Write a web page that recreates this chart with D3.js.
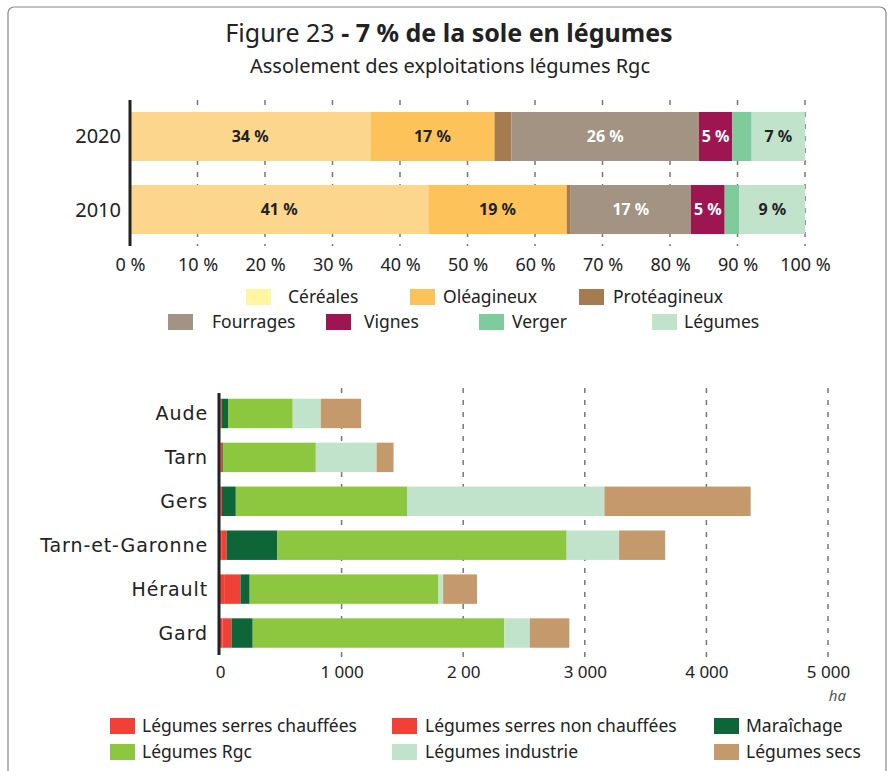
<!DOCTYPE html>
<html>
<head>
<meta charset="utf-8">
<script src="https://cdn.jsdelivr.net/npm/d3@7"></script>
<style>
  body { margin: 0; background: #fff; }
  text { font-family: "Noto Sans", "DejaVu Sans", sans-serif; fill: #222; }
</style>
</head>
<body>
<div id="viz"></div>
<script>

var width = 894;
var height = 771;

// Top chart data (% of surface)
var years = ["2020", "2010"];
var cultures = ["Céréales", "Oléagineux", "Protéagineux", "Fourrages", "Vignes", "Verger", "Légumes"];
var values2020 = [35.6, 18.4, 2.5, 27.8, 4.9, 2.9, 7.9];
var values2010 = [44.2, 20.5, 0.6, 17.8, 5.0, 2.2, 9.7];
var labels2020 = ["34 %", "17 %", "", "26 %", "5 %", "", "7 %"];
var labels2010 = ["41 %", "19 %", "", "17 %", "5 %", "", "9 %"];
var pctTicks = [0, 10, 20, 30, 40, 50, 60, 70, 80, 90, 100];

// Bottom chart data (ha)
var departements = ["Aude", "Tarn", "Gers", "Tarn-et-Garonne", "Hérault", "Gard"];
var types = ["Légumes serres chauffées", "Légumes serres non chauffées", "Maraîchage", "Légumes Rgc", "Légumes industrie", "Légumes secs"];
var serresChauffees = [3, 5, 5, 10, 40, 20];
var serresNonChauffees = [10, 14, 11, 44, 128, 75];
var maraichage = [53, 6, 114, 418, 76, 174];
var legumesRgc = [532, 763, 1408, 2379, 1553, 2070];
var legumesIndustrie = [231, 500, 1623, 431, 38, 208];
var legumesSecs = [332, 139, 1203, 379, 279, 326];
var haTicks = [0, 1000, 2000, 3000, 4000, 5000];
var haTickLabels = ["0", "1 000", "2 00", "3 000", "4 000", "5 000"];

var cultureColors = ["#fdd68e", "#fdc35a", "#a67b50", "#a39382", "#9e1651", "#7fcb9b", "#c1e3cc"];
var cultureLegendColors = ["#fff7a0", "#fdc35a", "#a67b50", "#a39382", "#9e1651", "#7fcb9b", "#c1e3cc"];
var whiteLabel = [false, false, false, true, true, false, false];
var typeColors = ["#ef4136", "#ef4136", "#0e6638", "#8dc63f", "#c1e3cc", "#c49a6c"];

var svg = d3.select("#viz").append("svg")
   .attr("width", width)
   .attr("height", height);

// frame
svg.append("rect")
   .attr("x", 8).attr("y", 7)
   .attr("width", 878).attr("height", 800)
   .attr("rx", 6)
   .attr("fill", "none")
   .attr("stroke", "#888")
   .attr("stroke-width", 1.2);

// Titles //
var title = svg.append("text")
   .attr("x", 449).attr("y", 42)
   .attr("text-anchor", "middle")
   .style("font-size", "25px");
title.append("tspan").text("Figure 23 ");
title.append("tspan").style("font-weight", "bold").text("- 7 % de la sole en légumes");

svg.append("text")
   .attr("x", 450).attr("y", 73)
   .attr("text-anchor", "middle")
   .style("font-size", "20px")
   .text("Assolement des exploitations légumes Rgc");

// Top chart //
var x1 = d3.scaleLinear().domain([0, 100]).range([130, 805]);
var y1 = d3.scaleBand().domain(years).range([100, 246]).paddingInner(0.329).paddingOuter(0.164);

svg.selectAll(".grid1")
   .data(pctTicks.slice(1))
   .enter().append("line")
   .attr("x1", function(d) { return x1(d); })
   .attr("x2", function(d) { return x1(d); })
   .attr("y1", 100).attr("y2", 246)
   .attr("stroke", "#777")
   .attr("stroke-width", 1.5)
   .attr("stroke-dasharray", "5,7");

var topRows = [
   {year: "2020", values: values2020, labels: labels2020},
   {year: "2010", values: values2010, labels: labels2010}
];

topRows.forEach(function(row) {
   var acc = 0;
   var segs = row.values.map(function(v, i) {
      var s = {i: i, x0: acc, x1: acc + v, label: row.labels[i]};
      acc += v;
      return s;
   });
   var g = svg.append("g");
   g.selectAll("rect")
      .data(segs)
      .enter().append("rect")
      .attr("x", function(d) { return x1(d.x0); })
      .attr("width", function(d) { return x1(d.x1) - x1(d.x0); })
      .attr("y", y1(row.year))
      .attr("height", y1.bandwidth())
      .attr("fill", function(d) { return cultureColors[d.i]; });
   g.selectAll("text")
      .data(segs.filter(function(d) { return d.label; }))
      .enter().append("text")
      .attr("x", function(d) { return (x1(d.x0) + x1(d.x1)) / 2; })
      .attr("y", y1(row.year) + y1.bandwidth() / 2)
      .attr("dy", "0.35em")
      .attr("text-anchor", "middle")
      .style("font-size", "16px")
      .style("font-weight", "bold")
      .style("fill", function(d) { return whiteLabel[d.i] ? "#fff" : "#222"; })
      .text(function(d) { return d.label; });
   svg.append("text")
      .attr("x", 121)
      .attr("y", y1(row.year) + y1.bandwidth() / 2)
      .attr("dy", "0.35em")
      .attr("text-anchor", "end")
      .style("font-size", "20px")
      .text(row.year);
});

svg.append("line")
   .attr("x1", 130).attr("x2", 130)
   .attr("y1", 100).attr("y2", 246)
   .attr("stroke", "#222")
   .attr("stroke-width", 3);

var axis1 = svg.append("g")
   .attr("transform", "translate(0,255)")
   .call(d3.axisBottom(x1).tickValues(pctTicks).tickSize(0).tickFormat(function(d) { return d + " %"; }));
axis1.select(".domain").remove();
axis1.selectAll("text")
   .style("font-size", "18px")
   .style("font-family", "'Noto Sans', sans-serif")
   .attr("fill", "#222");

// Top legend //
var legend1 = [
   {i: 0, sx: 246, tx: 288, y: 297},
   {i: 1, sx: 410, tx: 443, y: 297},
   {i: 2, sx: 579, tx: 613, y: 297},
   {i: 3, sx: 168, tx: 212, y: 322},
   {i: 4, sx: 326, tx: 364, y: 322},
   {i: 5, sx: 479, tx: 512, y: 322},
   {i: 6, sx: 652, tx: 684, y: 322}
];
legend1.forEach(function(l) {
   svg.append("rect")
      .attr("x", l.sx).attr("y", l.y - 8)
      .attr("width", 25).attr("height", 16)
      .attr("fill", cultureLegendColors[l.i]);
   svg.append("text")
      .attr("x", l.tx).attr("y", l.y)
      .attr("dy", "0.35em")
      .style("font-size", "17.5px")
      .text(cultures[l.i]);
});

// Bottom chart //
var x2 = d3.scaleLinear().domain([0, 5000]).range([220, 828]);
var y2 = d3.scaleBand().domain(departements).range([391.5, 655]).paddingInner(0.33).paddingOuter(0.165);

svg.selectAll(".grid2")
   .data(haTicks.slice(1))
   .enter().append("line")
   .attr("x1", function(d) { return x2(d); })
   .attr("x2", function(d) { return x2(d); })
   .attr("y1", 388).attr("y2", 657)
   .attr("stroke", "#777")
   .attr("stroke-width", 1.5)
   .attr("stroke-dasharray", "5,7");

var series = [serresChauffees, serresNonChauffees, maraichage, legumesRgc, legumesIndustrie, legumesSecs];

departements.forEach(function(dep, k) {
   var acc = 0;
   var segs = series.map(function(s, i) {
      var seg = {i: i, x0: acc, x1: acc + s[k]};
      acc += s[k];
      return seg;
   });
   svg.append("g").selectAll("rect")
      .data(segs)
      .enter().append("rect")
      .attr("x", function(d) { return x2(d.x0); })
      .attr("width", function(d) { return x2(d.x1) - x2(d.x0); })
      .attr("y", y2(dep))
      .attr("height", y2.bandwidth())
      .attr("fill", function(d) { return typeColors[d.i]; });
   svg.append("text")
      .attr("x", 208)
      .attr("y", y2(dep) + y2.bandwidth() / 2)
      .attr("dy", "0.35em")
      .attr("text-anchor", "end")
      .style("font-size", "19px")
      .style("letter-spacing", "0.9px")
      .style("font-family", "'DejaVu Sans', sans-serif")
      .text(dep);
});

svg.append("line")
   .attr("x1", 219).attr("x2", 219)
   .attr("y1", 393).attr("y2", 655)
   .attr("stroke", "#222")
   .attr("stroke-width", 3);

var axis2 = svg.append("g")
   .attr("transform", "translate(0,663)")
   .call(d3.axisBottom(x2).tickValues(haTicks).tickSize(0).tickFormat(function(d, i) { return haTickLabels[i]; }));
axis2.select(".domain").remove();
axis2.selectAll("text")
   .style("font-size", "17px")
   .style("font-family", "'Noto Sans', sans-serif")
   .attr("fill", "#222");

svg.append("text")
   .attr("x", 846).attr("y", 701)
   .attr("text-anchor", "end")
   .style("font-size", "15px")
   .style("font-style", "italic")
   .style("fill", "#555")
   .text("ha");

// Bottom legend //
var legend2 = [
   {i: 0, sx: 110, tx: 142, y: 726},
   {i: 1, sx: 392, tx: 425, y: 726},
   {i: 2, sx: 714, tx: 746, y: 726},
   {i: 3, sx: 110, tx: 142, y: 752},
   {i: 4, sx: 392, tx: 425, y: 752},
   {i: 5, sx: 714, tx: 746, y: 752}
];
legend2.forEach(function(l) {
   svg.append("rect")
      .attr("x", l.sx).attr("y", l.y - 8)
      .attr("width", 25).attr("height", 16)
      .attr("fill", typeColors[l.i]);
   svg.append("text")
      .attr("x", l.tx).attr("y", l.y)
      .attr("dy", "0.35em")
      .style("font-size", "17.5px")
      .text(types[l.i]);
});

</script>
</body>
</html>
